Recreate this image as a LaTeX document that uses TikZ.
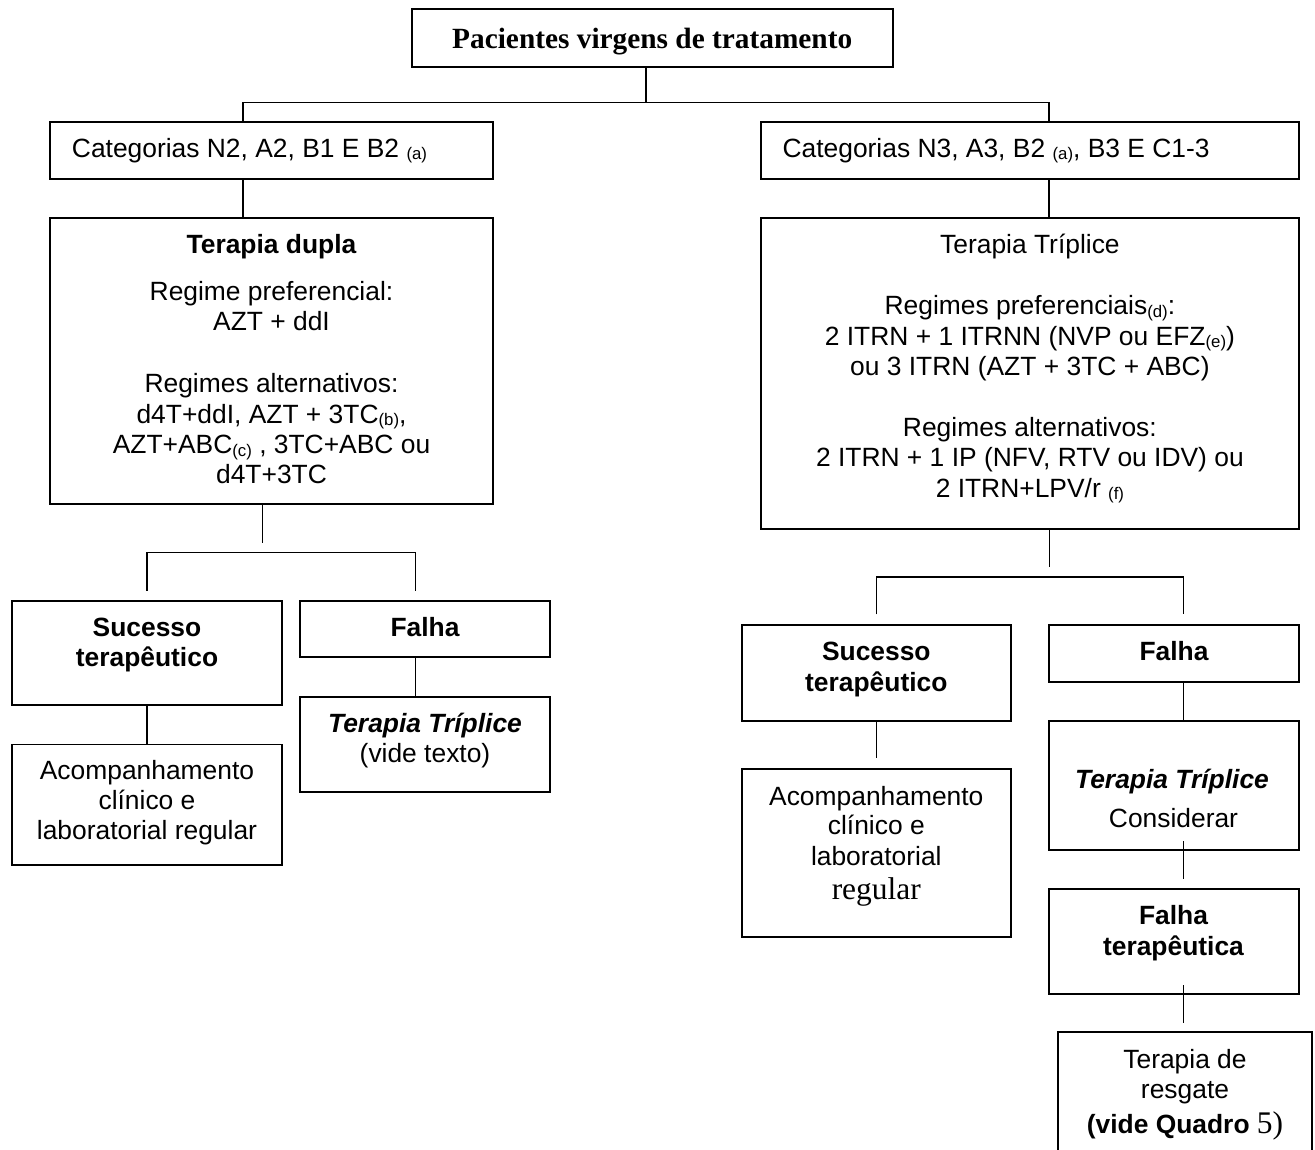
\documentclass[tikz,border=0pt]{standalone}
\usepackage{fontspec}
\setmainfont{Liberation Sans}
\newfontfamily\tnr{Liberation Serif}
\usetikzlibrary{fit}
\newcommand\subx[1]{\raisebox{-2.2pt}{\fontsize{12.6}{13}\selectfont #1}}
\tikzset{
 box/.style={draw, line width=1.45pt, inner sep=0pt, rectangle},
 conn/.style={draw, line width=1.2pt},
 txt/.style={inner sep=0pt, anchor=base, font=\fontsize{19.8}{22}\selectfont},
 btxt/.style={txt, font=\fontsize{19.8}{22}\selectfont\bfseries},
 bitxt/.style={txt, font=\fontsize{19.8}{22}\selectfont\bfseries\itshape},
 ttxt/.style={txt, font=\tnr\fontsize{22}{24}\selectfont\bfseries},
}
\begin{document}
\begin{tikzpicture}[x=0.75pt,y=-0.75pt]
\clip (0,0) rectangle (1315,1150);
\fill[white] (0,0) rectangle (1315,1150);

% boxes
\node[box, fit={(411.7,9) (892.7,66.7)}] (title) {};
\node[box, fit={(50.3,121.7) (492.7,179.3)}] (catL) {};
\node[box, fit={(760.7,121.7) (1299,179.3)}] (catR) {};
\node[box, fit={(50.3,217.7) (492.7,504.3)}] (dupla) {};
\node[box, fit={(760.7,217.7) (1299,529)}] (tripla) {};
\node[box, fit={(12.3,600.7) (281.7,705.3)}] (sucL) {};
\node[box, fit={(300,600.7) (550,657.3)}] (falL) {};
\node[box, fit={(300,696.7) (550,792.3)}] (ttL) {};
\node[box, fit={(12.3,744.5) (281.7,865)}] (acL) {};
\node[box, fit={(741.7,624.7) (1011,720.7)}] (sucR) {};
\node[box, fit={(1048.6,624.7) (1299,682.3)}] (falR) {};
\node[box, fit={(1048.6,720.7) (1299,849.7)}] (ttR) {};
\node[box, fit={(741.7,768.7) (1011,936.7)}] (acR) {};
\node[box, fit={(1048.6,888.7) (1299,994.3)}] (ftR) {};
\node[box, fit={(1058.3,1032.3) (1312.3,1165)}] (resg) {};

% connectors
\coordinate (hT) at (646,102.3);
\coordinate (hL) at (242.7,102.3);
\coordinate (hR) at (1048.9,102.3);
\draw[conn] (title.south -| hT) -- (hT);
\draw[conn] (hL |- catL.north) -- (hL) -- (hR) -- (hR |- catR.north);
\draw[conn] (catL.south -| hL) -- (hL |- dupla.north);
\draw[conn] (catR.south -| hR) -- (hR |- tripla.north);

\coordinate (sD) at (262.3,542.7);
\coordinate (bL1) at (147,552.3);
\coordinate (bL2) at (415.3,552.3);
\coordinate (dL1) at (147,590.7);
\coordinate (dL2) at (415.3,590.7);
\draw[conn] (dupla.south -| sD) -- (sD);
\draw[conn] (dL1) -- (bL1) -- (bL2) -- (dL2);
\draw[conn] (sucL.south -| dL1) -- (dL1 |- acL.north);
\draw[conn] (falL.south -| dL2) -- (dL2 |- ttL.north);

\coordinate (sT) at (1049.3,566.7);
\coordinate (bR1) at (876.3,577);
\coordinate (bR2) at (1183.3,577);
\coordinate (dR1) at (876.3,614.3);
\coordinate (dR2) at (1183.3,614.3);
\coordinate (eS) at (876.3,758.3);
\coordinate (a1) at (1183.3,841);
\coordinate (a2) at (1183.3,879);
\coordinate (c1) at (1183.3,985);
\coordinate (c2) at (1183.3,1022.7);
\draw[conn] (tripla.south -| sT) -- (sT);
\draw[conn] (dR1) -- (bR1) -- (bR2) -- (dR2);
\draw[conn] (sucR.south -| eS) -- (eS);
\draw[conn] (falR.south -| dR2) -- (dR2 |- ttR.north);
\draw[conn] (a1) -- (a2);
\draw[conn] (c1) -- (c2);

% texts
\node[ttxt] (tTitle) at (652.2,48.3) {Pacientes virgens de tratamento};
\node[txt, anchor=base west] (tCatL) at (71.7,157) {Categorias N2, A2, B1 E B2 \subx{(a)}};
\node[txt, anchor=base west] (tCatR) at (782.3,157) {Categorias N3, A3, B2 \subx{(a)}, B3 E C1-3};

\node[btxt] (d1) at (271.5,253.3) {Terapia dupla};
\node[txt] (d2) at (271.5,300.4) {Regime preferencial:};
\node[txt] (d3) at (271.5,330.8) {AZT + ddI};
\node[txt] (d4) at (271.5,392.6) {Regimes alternativos:};
\node[txt] (d5) at (271.5,423) {d4T+ddI, AZT + 3TC\subx{(b)},};
\node[txt] (d6) at (271.5,453.4) {AZT+ABC\subx{(c)} , 3TC+ABC ou};
\node[txt] (d7) at (271.5,483.8) {d4T+3TC};

\node[txt] (r1) at (1029.9,253.5) {Terapia Tríplice};
\node[txt] (r2) at (1029.9,314.5) {Regimes preferenciais\subx{(d)}:};
\node[txt] (r3) at (1029.9,345) {2 ITRN + 1 ITRNN (NVP ou EFZ\subx{(e)})};
\node[txt] (r4) at (1029.9,375.5) {ou 3 ITRN (AZT + 3TC + ABC)};
\node[txt] (r5) at (1029.9,436) {Regimes alternativos:};
\node[txt] (r6) at (1029.9,466.5) {2 ITRN + 1 IP (NFV, RTV ou IDV) ou};
\node[txt] (r7) at (1029.9,497) {2 ITRN+LPV/r \subx{(f)}};

\node[btxt] (sL1) at (147,636) {Sucesso};
\node[btxt] (sL2) at (147,666.5) {terapêutico};
\node[btxt] (fL1) at (425,636) {Falha};
\node[bitxt] (tL1) at (425,732.3) {Terapia Tríplice};
\node[txt] (tL2) at (425,762.3) {(vide texto)};
\node[txt] (aL1) at (147,779.3) {Acompanhamento};
\node[txt] (aL2) at (147,809.3) {clínico e};
\node[txt] (aL3) at (147,839.3) {laboratorial regular};

\node[btxt] (sR1) at (876.3,660.7) {Sucesso};
\node[btxt] (sR2) at (876.3,691) {terapêutico};
\node[btxt] (fR1) at (1174,660.7) {Falha};
\node[bitxt] (tR1) at (1172,788.3) {Terapia Tríplice};
\node[txt] (tR2) at (1173.5,827) {Considerar};
\node[txt] (aR1) at (876.3,805) {Acompanhamento};
\node[txt] (aR2) at (876.3,834.5) {clínico e};
\node[txt] (aR3) at (876.3,865.5) {laboratorial};
\node[txt, font=\tnr\fontsize{23.6}{26}\selectfont] (aR4) at (876.3,899.5) {regular};
\node[btxt] (ftR1) at (1173.5,924) {Falha};
\node[btxt] (ftR2) at (1173.5,955.3) {terapêutica};
\node[txt] (g1) at (1185,1068.8) {Terapia de};
\node[txt] (g2) at (1185,1098.8) {resgate};
\node[btxt] (g3) at (1185,1133) {(vide Quadro {\tnr\mdseries\fontsize{23.6}{26}\selectfont 5)}};
\end{tikzpicture}
\end{document}
